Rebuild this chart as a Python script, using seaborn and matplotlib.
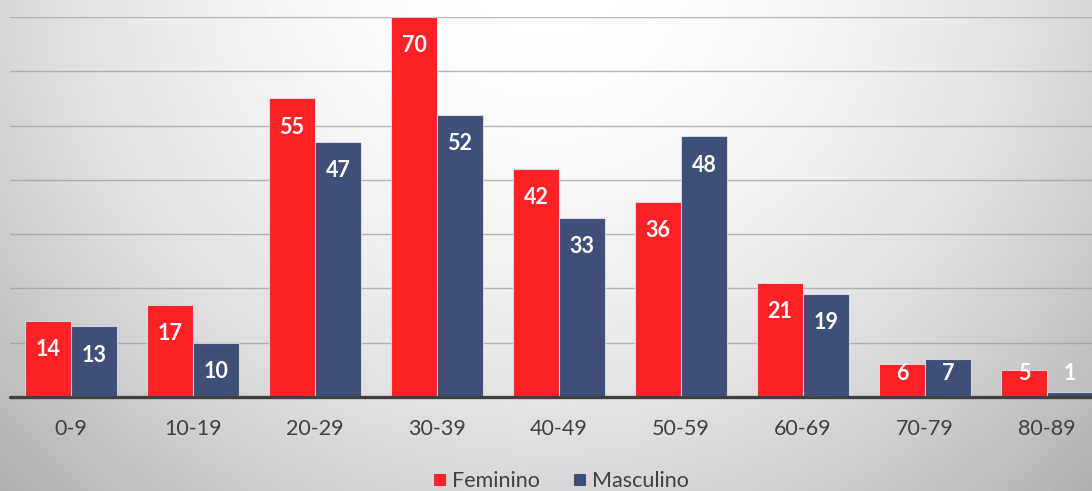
import numpy as np
import pandas as pd
import matplotlib
matplotlib.use('Agg')
import matplotlib.pyplot as plt
import seaborn as sns

# Data
faixas = ['0-9', '10-19', '20-29', '30-39', '40-49', '50-59', '60-69', '70-79', '80-89']
feminino = [14, 17, 55, 70, 42, 36, 21, 6, 5]
masculino = [13, 10, 47, 52, 33, 48, 19, 7, 1]

df = pd.DataFrame({
    'faixa': faixas * 2,
    'valor': feminino + masculino,
    'sexo': ['Feminino'] * len(faixas) + ['Masculino'] * len(faixas),
})

sns.set_style('white')
plt.rcParams['font.family'] = ['Lato', 'DejaVu Sans']

fig = plt.figure(figsize=(10.92, 4.91), dpi=100)

# radial grey background, light at the top centre
bg = fig.add_axes([0, 0, 1, 1], zorder=-10)
yy, xx = np.mgrid[0:1:300j, 0:1:600j]
d = np.sqrt(((xx - 0.5) * 2.2) ** 2 + ((yy - 1.1) * 1.0) ** 2)
grad = np.clip(1.0 - 0.13 * d ** 2, 0, 1)
bg.imshow(grad, cmap='gray', vmin=0, vmax=1, aspect='auto', origin='lower',
          extent=[0, 1, 0, 1])
bg.axis('off')

ax = fig.add_axes([10 / 1092, 1 - 397 / 491, 1 - 10 / 1092, (397 - 17) / 491])
ax.patch.set_alpha(0)

palette = {'Feminino': '#FF2126', 'Masculino': '#3E5078'}
sns.barplot(data=df, x='faixa', y='valor', hue='sexo', palette=palette,
            width=0.755, saturation=1, edgecolor=(1, 1, 1, 0.6), linewidth=0.8,
            ax=ax, zorder=3)

ax.set_ylim(0, 70)
ax.set_xlim(-0.5, 8.5 - (1108 - 1092) / 121.9)
ax.set_yticks([])
for v in range(10, 71, 10):
    ax.axhline(v, color='#9a9a9a', lw=1, alpha=0.7, zorder=1)
ax.axhline(0, color='#404040', lw=2.4, zorder=4, clip_on=False)
for s in ax.spines.values():
    s.set_visible(False)
ax.set_xlabel('')
ax.set_ylabel('')
ax.tick_params(axis='x', length=0, pad=16, labelsize=15.5, labelcolor='#404040')

# value labels inside the bar tops
for cont in ax.containers:
    for bar in cont:
        h = bar.get_height()
        ypos = max(h - 5.3, 4.3)
        ax.text(bar.get_x() + bar.get_width() / 2, ypos, f'{int(h)}',
                ha='center', va='center', color='white', fontsize=15.5,
                fontweight='bold', zorder=5)

handles, labels = ax.get_legend_handles_labels()
ax.get_legend().remove()
fig.legend(handles, labels, loc='center', bbox_to_anchor=(561 / 1092, 1 - 481 / 491),
           ncol=2, frameon=False, fontsize=15.5, labelcolor='#404040',
           handlelength=0.6, handleheight=0.6, handletextpad=0.3, columnspacing=1.5)

fig.savefig('out.png', dpi=100)
